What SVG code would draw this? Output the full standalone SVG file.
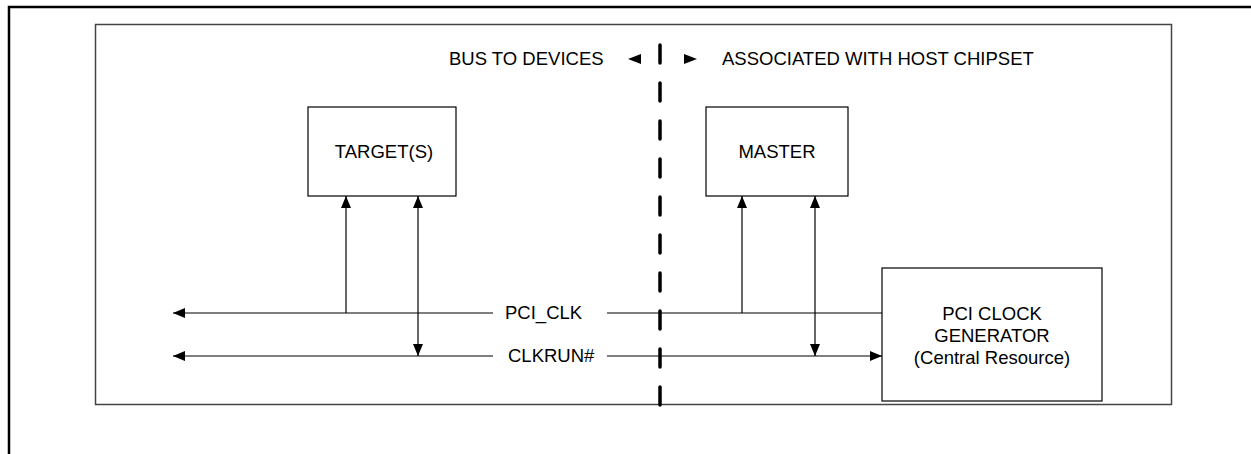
<svg xmlns="http://www.w3.org/2000/svg" width="1251" height="454" viewBox="0 0 1251 454">
<defs>
<marker id="ah" viewBox="0 0 12 10" refX="12" refY="5" markerWidth="12" markerHeight="10" markerUnits="userSpaceOnUse" orient="auto-start-reverse">
<path d="M0,0 L12,5 L0,10 Z" fill="#000"/>
</marker>
</defs>
<style>
text{font-family:"Liberation Sans",Arial,sans-serif;font-size:18.5px;fill:#000}
.box{fill:#fff;stroke:#000;stroke-width:1.2}
.ln{stroke:#000;stroke-width:1.2;fill:none}
.tri{fill:#000}
</style>
<rect width="1251" height="454" fill="#fff"/>
<path d="M9,454 V7 H1251" fill="none" stroke="#000" stroke-width="2.5"/>
<rect x="95.5" y="24.5" width="1076" height="380" fill="none" stroke="#444" stroke-width="1.5"/>
<g id="header">
<text x="449" y="65">BUS TO DEVICES</text>
<path class="tri" d="M628,59 L641,54 L641,64 Z"/>
<path class="tri" d="M697,59 L684,54 L684,64 Z"/>
<text x="722" y="65">ASSOCIATED WITH HOST CHIPSET</text>
</g>
<line id="divider" x1="660" y1="45" x2="660" y2="410" stroke="#000" stroke-width="3.5" stroke-linecap="round" stroke-dasharray="18 20"/>
<g id="targets"><rect class="box" x="308" y="107" width="148" height="89"/><text x="384" y="158" text-anchor="middle">TARGET(S)</text></g>
<g id="master"><rect class="box" x="706" y="107" width="142" height="89"/><text x="777" y="158" text-anchor="middle">MASTER</text></g>
<g id="clockgen"><rect class="box" x="882" y="268" width="220" height="133"/>
<text x="992" y="320" text-anchor="middle">PCI CLOCK</text>
<text x="992" y="342" text-anchor="middle">GENERATOR</text>
<text x="992" y="364" text-anchor="middle">(Central Resource)</text></g>
<g id="connectors">
<line class="ln" x1="493" y1="313" x2="173" y2="313" marker-end="url(#ah)"/>
<line class="ln" x1="607" y1="313" x2="882" y2="313"/>
<line class="ln" x1="493" y1="356" x2="173" y2="356" marker-end="url(#ah)"/>
<line class="ln" x1="607" y1="356" x2="882" y2="356" marker-end="url(#ah)"/>
<line class="ln" x1="346" y1="313" x2="346" y2="196" marker-end="url(#ah)"/>
<line class="ln" x1="418" y1="356" x2="418" y2="196" marker-start="url(#ah)" marker-end="url(#ah)"/>
<line class="ln" x1="742" y1="313" x2="742" y2="196" marker-end="url(#ah)"/>
<line class="ln" x1="815" y1="356" x2="815" y2="196" marker-start="url(#ah)" marker-end="url(#ah)"/>
<text x="505" y="319">PCI_CLK</text>
<text x="508" y="362">CLKRUN#</text>
</g>
</svg>
